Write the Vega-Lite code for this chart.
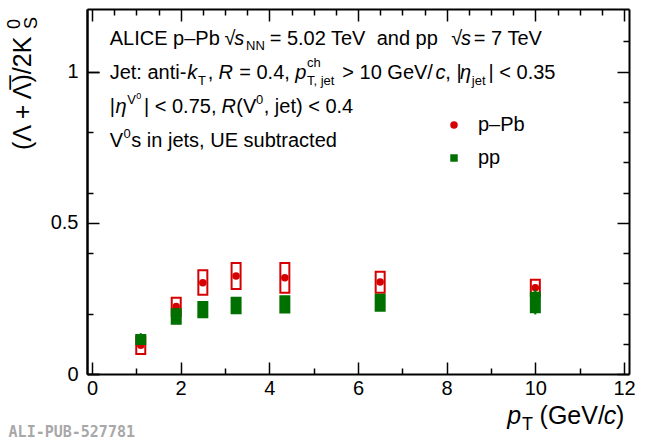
{
  "$schema": "https://vega.github.io/schema/vega-lite/v6.json",
  "width": 542,
  "height": 365,
  "autosize": {"type": "none"},
  "padding": {"left": 87, "top": 9, "right": 21, "bottom": 67},
  "config": {"font": "Liberation Sans", "view": {"stroke": null}, "axis": {"labelOverlap": false, "labelSeparation": 0}},
  "datasets": {
    "pts": [
      {"sys": "p–Pb", "x": 1.1, "y": 0.095, "lo": 0.066, "hi": 0.124, "slo": 0.088, "shi": 0.102},
      {"sys": "p–Pb", "x": 1.9, "y": 0.223, "lo": 0.193, "hi": 0.252, "slo": 0.216, "shi": 0.23},
      {"sys": "p–Pb", "x": 2.5, "y": 0.302, "lo": 0.262, "hi": 0.343, "slo": 0.295, "shi": 0.309},
      {"sys": "p–Pb", "x": 3.25, "y": 0.324, "lo": 0.281, "hi": 0.367, "slo": 0.317, "shi": 0.331},
      {"sys": "p–Pb", "x": 4.35, "y": 0.318, "lo": 0.269, "hi": 0.367, "slo": 0.311, "shi": 0.325},
      {"sys": "p–Pb", "x": 6.5, "y": 0.304, "lo": 0.269, "hi": 0.338, "slo": 0.297, "shi": 0.311},
      {"sys": "p–Pb", "x": 10.0, "y": 0.285, "lo": 0.258, "hi": 0.312, "slo": 0.274, "shi": 0.296},
      {"sys": "pp", "x": 1.1, "y": 0.114, "lo": 0.099, "hi": 0.129, "slo": 0.1, "shi": 0.135},
      {"sys": "pp", "x": 1.9, "y": 0.19, "lo": 0.166, "hi": 0.214, "slo": 0.185, "shi": 0.195},
      {"sys": "pp", "x": 2.5, "y": 0.213, "lo": 0.188, "hi": 0.238, "slo": 0.208, "shi": 0.218},
      {"sys": "pp", "x": 3.25, "y": 0.227, "lo": 0.201, "hi": 0.252, "slo": 0.222, "shi": 0.232},
      {"sys": "pp", "x": 4.35, "y": 0.23, "lo": 0.203, "hi": 0.257, "slo": 0.224, "shi": 0.236},
      {"sys": "pp", "x": 6.5, "y": 0.236, "lo": 0.209, "hi": 0.262, "slo": 0.229, "shi": 0.243},
      {"sys": "pp", "x": 10.0, "y": 0.238, "lo": 0.204, "hi": 0.269, "slo": 0.197, "shi": 0.279}
    ],
    "t20": [
      {"x": 0.399, "y": 1.088, "t": "ALICE p–Pb"},
      {"x": 2.99, "y": 1.088, "t": "√"},
      {"x": 4.007, "y": 1.088, "t": "= 5.02 TeV"},
      {"x": 6.421, "y": 1.088, "t": "and pp"},
      {"x": 8.103, "y": 1.088, "t": "√"},
      {"x": 8.613, "y": 1.088, "t": "= 7 TeV"},
      {"x": 0.399, "y": 0.976, "t": "Jet: anti-"},
      {"x": 2.612, "y": 0.976, "t": ","},
      {"x": 3.321, "y": 0.976, "t": "= 0.4,"},
      {"x": 5.646, "y": 0.976, "t": "> 10 GeV/"},
      {"x": 7.97, "y": 0.976, "t": ", |"},
      {"x": 8.944, "y": 0.976, "t": "| < 0.35"},
      {"x": 0.399, "y": 0.863, "t": "|"},
      {"x": 1.173, "y": 0.863, "t": "| < 0.75,"},
      {"x": 3.255, "y": 0.863, "t": "(V"},
      {"x": 3.874, "y": 0.863, "t": ", jet) < 0.4"},
      {"x": 0.399, "y": 0.751, "t": "V"},
      {"x": 0.886, "y": 0.751, "t": "s in jets, UE subtracted"}
    ],
    "t20i": [
      {"x": 3.21, "y": 1.088, "t": "s"},
      {"x": 8.325, "y": 1.088, "t": "s"},
      {"x": 2.148, "y": 0.976, "t": "k"},
      {"x": 2.856, "y": 0.976, "t": "R"},
      {"x": 4.583, "y": 0.976, "t": "p"},
      {"x": 7.749, "y": 0.976, "t": "c"},
      {"x": 8.302, "y": 0.976, "t": "η"},
      {"x": 0.531, "y": 0.863, "t": "η"},
      {"x": 2.922, "y": 0.863, "t": "R"}
    ],
    "t13": [
      {"x": 3.476, "y": 1.071, "t": "NN"},
      {"x": 2.391, "y": 0.956, "t": "T"},
      {"x": 4.849, "y": 1.015, "t": "ch"},
      {"x": 4.849, "y": 0.956, "t": "T, jet"},
      {"x": 8.568, "y": 0.956, "t": "jet"},
      {"x": 0.797, "y": 0.893, "t": "V"},
      {"x": 3.697, "y": 0.893, "t": "0"},
      {"x": 0.708, "y": 0.78, "t": "0"}
    ],
    "t9": [
      {"x": 0.996, "y": 0.909, "t": "0"}
    ],
    "t25": [
      {"x": 10.096, "y": -0.165, "t": "(GeV/"},
      {"x": 11.818, "y": -0.165, "t": ")"}
    ],
    "t25i": [
      {"x": 9.365, "y": -0.165, "t": "p"},
      {"x": 11.541, "y": -0.165, "t": "c"}
    ],
    "t18": [
      {"x": 9.697, "y": -0.186, "t": "T"}
    ],
    "ty25": [
      {"x": -1.373, "y": 0.741, "t": "(Λ + Λ̅)/2K"}
    ],
    "ty18": [
      {"x": -1.616, "y": 1.141, "t": "0"},
      {"x": -1.24, "y": 1.141, "t": "S"}
    ],
    "wm": [
      {"x": -1.882, "y": -0.208, "t": "ALI-PUB-527781"}
    ]
  },
  "layer": [
    {
      "layer": [
        {
          "data": {"name": "pts"},
          "transform": [{"filter": "datum.sys == 'p–Pb'"}],
          "mark": {"type": "bar", "orient": "vertical", "width": 9, "fillOpacity": 0, "stroke": "#d50000", "strokeWidth": 2},
          "encoding": {
            "x": {
              "field": "x", "type": "quantitative", "title": null,
              "scale": {"domain": [0, 12], "nice": false, "zero": false},
              "axis": {
                "orient": "bottom",
                "values": [0, 0.5, 1, 1.5, 2, 2.5, 3, 3.5, 4, 4.5, 5, 5.5, 6, 6.5, 7, 7.5, 8, 8.5, 9, 9.5, 10, 10.5, 11, 11.5, 12],
                "labelExpr": "datum.value % 2 == 0 ? format(datum.value, 'd') : ''",
                "tickSize": {"condition": {"test": "datum.value % 2 == 0", "value": -12}, "value": -6},
                "tickColor": "black", "tickWidth": 1.5,
                "domainColor": "black", "domainWidth": 2,
                "labelFontSize": 20, "labelFont": "Liberation Sans", "labelColor": "black",
                "labelPadding": 16, "labelFlush": false, "labelOverlap": false, "grid": false, "title": null
              }
            },
            "y": {
              "field": "lo", "type": "quantitative", "title": null,
              "scale": {"domain": [0, 1.207], "nice": false, "zero": false},
              "axis": {
                "orient": "left",
                "values": [0, 0.1, 0.2, 0.3, 0.4, 0.5, 0.6, 0.7, 0.8, 0.9, 1, 1.1],
                "labels": false,
                "tickSize": {"condition": {"test": "datum.value < 0.05 || (datum.value > 0.45 && datum.value < 0.55) || (datum.value > 0.95 && datum.value < 1.05)", "value": -12}, "value": -6},
                "tickColor": "black", "tickWidth": 1.5,
                "domainColor": "black", "domainWidth": 2, "grid": false, "title": null
              }
            },
            "y2": {"field": "hi", "title": null}
          }
        },
        {
          "data": {"name": "pts"},
          "transform": [{"filter": "datum.sys == 'p–Pb'"}],
          "mark": {"type": "rule", "stroke": "#d50000", "strokeWidth": 2},
          "encoding": {
            "x": {"field": "x", "type": "quantitative", "title": null, "scale": {"domain": [0, 12], "nice": false, "zero": false}},
            "y": {"field": "slo", "type": "quantitative", "title": null, "scale": {"domain": [0, 1.207], "nice": false, "zero": false}},
            "y2": {"field": "shi", "title": null}
          }
        },
        {
          "data": {"name": "pts"},
          "transform": [{"filter": "datum.sys == 'p–Pb'"}],
          "mark": {"type": "point", "filled": true, "opacity": 1, "size": 56},
          "encoding": {
            "x": {"field": "x", "type": "quantitative", "title": null, "scale": {"domain": [0, 12], "nice": false, "zero": false}},
            "y": {"field": "y", "type": "quantitative", "title": null, "scale": {"domain": [0, 1.207], "nice": false, "zero": false}},
            "color": {
              "field": "sys", "type": "nominal",
              "scale": {"domain": ["p–Pb", "pp"], "range": ["#d50000", "#007000"]},
              "legend": {"orient": "none", "legendX": 357, "legendY": 106, "title": null, "padding": 0, "labelFontSize": 20, "labelFont": "Liberation Sans", "labelColor": "black", "symbolSize": 56, "rowPadding": 13, "labelOffset": 14}
            },
            "shape": {
              "field": "sys", "type": "nominal",
              "scale": {"domain": ["p–Pb", "pp"], "range": ["circle", "square"]},
              "legend": {"orient": "none", "legendX": 357, "legendY": 106, "title": null, "padding": 0, "labelFontSize": 20, "labelFont": "Liberation Sans", "labelColor": "black", "symbolSize": 56, "rowPadding": 13, "labelOffset": 14}
            }
          }
        },
        {
          "data": {"name": "pts"},
          "transform": [{"filter": "datum.sys == 'pp'"}],
          "mark": {"type": "bar", "orient": "vertical", "width": 9, "fill": "#007000", "stroke": "#007000", "strokeWidth": 2},
          "encoding": {
            "x": {"field": "x", "type": "quantitative", "title": null, "scale": {"domain": [0, 12], "nice": false, "zero": false}},
            "y": {"field": "lo", "type": "quantitative", "title": null, "scale": {"domain": [0, 1.207], "nice": false, "zero": false}},
            "y2": {"field": "hi", "title": null}
          }
        },
        {
          "data": {"name": "pts"},
          "transform": [{"filter": "datum.sys == 'pp'"}],
          "mark": {"type": "rule", "stroke": "#007000", "strokeWidth": 2},
          "encoding": {
            "x": {"field": "x", "type": "quantitative", "title": null, "scale": {"domain": [0, 12], "nice": false, "zero": false}},
            "y": {"field": "slo", "type": "quantitative", "title": null, "scale": {"domain": [0, 1.207], "nice": false, "zero": false}},
            "y2": {"field": "shi", "title": null}
          }
        },
        {
          "data": {"name": "pts"},
          "transform": [{"filter": "datum.sys == 'pp'"}],
          "mark": {"type": "point", "filled": true, "opacity": 1, "size": 56},
          "encoding": {
            "x": {"field": "x", "type": "quantitative", "title": null, "scale": {"domain": [0, 12], "nice": false, "zero": false}},
            "y": {"field": "y", "type": "quantitative", "title": null, "scale": {"domain": [0, 1.207], "nice": false, "zero": false}},
            "color": {"field": "sys", "type": "nominal"},
            "shape": {"field": "sys", "type": "nominal"}
          }
        },
        {
          "data": {"name": "t20"},
          "mark": {"type": "text", "align": "left", "baseline": "alphabetic", "fontSize": 20, "font": "Liberation Sans", "color": "black"},
          "encoding": {
            "x": {"field": "x", "type": "quantitative", "title": null, "scale": {"domain": [0, 12], "nice": false, "zero": false}},
            "y": {"field": "y", "type": "quantitative", "title": null, "scale": {"domain": [0, 1.207], "nice": false, "zero": false}},
            "text": {"field": "t"}
          }
        },
        {
          "data": {"name": "t20i"},
          "mark": {"type": "text", "align": "left", "baseline": "alphabetic", "fontSize": 20, "fontStyle": "italic", "font": "Liberation Sans", "color": "black"},
          "encoding": {
            "x": {"field": "x", "type": "quantitative", "title": null, "scale": {"domain": [0, 12], "nice": false, "zero": false}},
            "y": {"field": "y", "type": "quantitative", "title": null, "scale": {"domain": [0, 1.207], "nice": false, "zero": false}},
            "text": {"field": "t"}
          }
        },
        {
          "data": {"name": "t13"},
          "mark": {"type": "text", "align": "left", "baseline": "alphabetic", "fontSize": 13, "font": "Liberation Sans", "color": "black"},
          "encoding": {
            "x": {"field": "x", "type": "quantitative", "title": null, "scale": {"domain": [0, 12], "nice": false, "zero": false}},
            "y": {"field": "y", "type": "quantitative", "title": null, "scale": {"domain": [0, 1.207], "nice": false, "zero": false}},
            "text": {"field": "t"}
          }
        },
        {
          "data": {"name": "t9"},
          "mark": {"type": "text", "align": "left", "baseline": "alphabetic", "fontSize": 9, "font": "Liberation Sans", "color": "black"},
          "encoding": {
            "x": {"field": "x", "type": "quantitative", "title": null, "scale": {"domain": [0, 12], "nice": false, "zero": false}},
            "y": {"field": "y", "type": "quantitative", "title": null, "scale": {"domain": [0, 1.207], "nice": false, "zero": false}},
            "text": {"field": "t"}
          }
        },
        {
          "data": {"name": "t25"},
          "mark": {"type": "text", "align": "left", "baseline": "alphabetic", "fontSize": 25, "font": "Liberation Sans", "color": "black"},
          "encoding": {
            "x": {"field": "x", "type": "quantitative", "title": null, "scale": {"domain": [0, 12], "nice": false, "zero": false}},
            "y": {"field": "y", "type": "quantitative", "title": null, "scale": {"domain": [0, 1.207], "nice": false, "zero": false}},
            "text": {"field": "t"}
          }
        },
        {
          "data": {"name": "t25i"},
          "mark": {"type": "text", "align": "left", "baseline": "alphabetic", "fontSize": 25, "fontStyle": "italic", "font": "Liberation Sans", "color": "black"},
          "encoding": {
            "x": {"field": "x", "type": "quantitative", "title": null, "scale": {"domain": [0, 12], "nice": false, "zero": false}},
            "y": {"field": "y", "type": "quantitative", "title": null, "scale": {"domain": [0, 1.207], "nice": false, "zero": false}},
            "text": {"field": "t"}
          }
        },
        {
          "data": {"name": "t18"},
          "mark": {"type": "text", "align": "left", "baseline": "alphabetic", "fontSize": 18, "font": "Liberation Sans", "color": "black"},
          "encoding": {
            "x": {"field": "x", "type": "quantitative", "title": null, "scale": {"domain": [0, 12], "nice": false, "zero": false}},
            "y": {"field": "y", "type": "quantitative", "title": null, "scale": {"domain": [0, 1.207], "nice": false, "zero": false}},
            "text": {"field": "t"}
          }
        },
        {
          "data": {"name": "ty25"},
          "mark": {"type": "text", "align": "left", "baseline": "alphabetic", "angle": 270, "fontSize": 25, "font": "Liberation Sans", "color": "black"},
          "encoding": {
            "x": {"field": "x", "type": "quantitative", "title": null, "scale": {"domain": [0, 12], "nice": false, "zero": false}},
            "y": {"field": "y", "type": "quantitative", "title": null, "scale": {"domain": [0, 1.207], "nice": false, "zero": false}},
            "text": {"field": "t"}
          }
        },
        {
          "data": {"name": "ty18"},
          "mark": {"type": "text", "align": "left", "baseline": "alphabetic", "angle": 270, "fontSize": 18, "font": "Liberation Sans", "color": "black"},
          "encoding": {
            "x": {"field": "x", "type": "quantitative", "title": null, "scale": {"domain": [0, 12], "nice": false, "zero": false}},
            "y": {"field": "y", "type": "quantitative", "title": null, "scale": {"domain": [0, 1.207], "nice": false, "zero": false}},
            "text": {"field": "t"}
          }
        },
        {
          "data": {"name": "wm"},
          "mark": {"type": "text", "align": "left", "baseline": "alphabetic", "fontSize": 15, "fontWeight": "bold", "font": "DejaVu Sans Mono", "color": "#a8a8a8"},
          "encoding": {
            "x": {"field": "x", "type": "quantitative", "title": null, "scale": {"domain": [0, 12], "nice": false, "zero": false}},
            "y": {"field": "y", "type": "quantitative", "title": null, "scale": {"domain": [0, 1.207], "nice": false, "zero": false}},
            "text": {"field": "t"}
          }
        }
      ]
    },
    {
      "data": {"name": "pts"},
      "mark": {"type": "point", "opacity": 0},
      "encoding": {
        "x": {
          "field": "x", "type": "quantitative", "title": null,
          "scale": {"domain": [0, 12], "nice": false, "zero": false},
          "axis": {
            "orient": "top",
            "values": [0, 0.5, 1, 1.5, 2, 2.5, 3, 3.5, 4, 4.5, 5, 5.5, 6, 6.5, 7, 7.5, 8, 8.5, 9, 9.5, 10, 10.5, 11, 11.5, 12],
            "labels": false,
            "tickSize": {"condition": {"test": "datum.value % 2 == 0", "value": -12}, "value": -6},
            "tickColor": "black", "tickWidth": 1.5,
            "domainColor": "black", "domainWidth": 2, "grid": false, "title": null
          }
        },
        "y": {
          "field": "y", "type": "quantitative", "title": null,
          "scale": {"domain": [0, 1.207], "nice": false, "zero": false},
          "axis": {
            "orient": "right",
            "values": [0, 0.1, 0.2, 0.3, 0.4, 0.5, 0.6, 0.7, 0.8, 0.9, 1, 1.1],
            "labels": false,
            "tickSize": {"condition": {"test": "datum.value < 0.05 || (datum.value > 0.45 && datum.value < 0.55) || (datum.value > 0.95 && datum.value < 1.05)", "value": -12}, "value": -6},
            "tickColor": "black", "tickWidth": 1.5,
            "domainColor": "black", "domainWidth": 2, "grid": false, "title": null
          }
        }
      }
    },
    {
      "data": {"name": "pts"},
      "mark": {"type": "point", "opacity": 0},
      "encoding": {
        "y": {
          "field": "y", "type": "quantitative", "title": null,
          "scale": {"domain": [0, 1.207], "nice": false, "zero": false},
          "axis": {
            "orient": "left",
            "values": [0, 0.5, 1],
            "format": "~g",
            "ticks": true, "tickSize": -12, "tickColor": "black", "tickWidth": 1.5,
            "domain": true, "domainColor": "black", "domainWidth": 2,
            "labelFontSize": 20, "labelFont": "Liberation Sans", "labelColor": "black",
            "labelPadding": 21, "labelFlush": false, "labelOverlap": false, "grid": false, "title": null
          }
        }
      }
    }
  ],
  "resolve": {"axis": {"x": "independent", "y": "independent"}}
}
